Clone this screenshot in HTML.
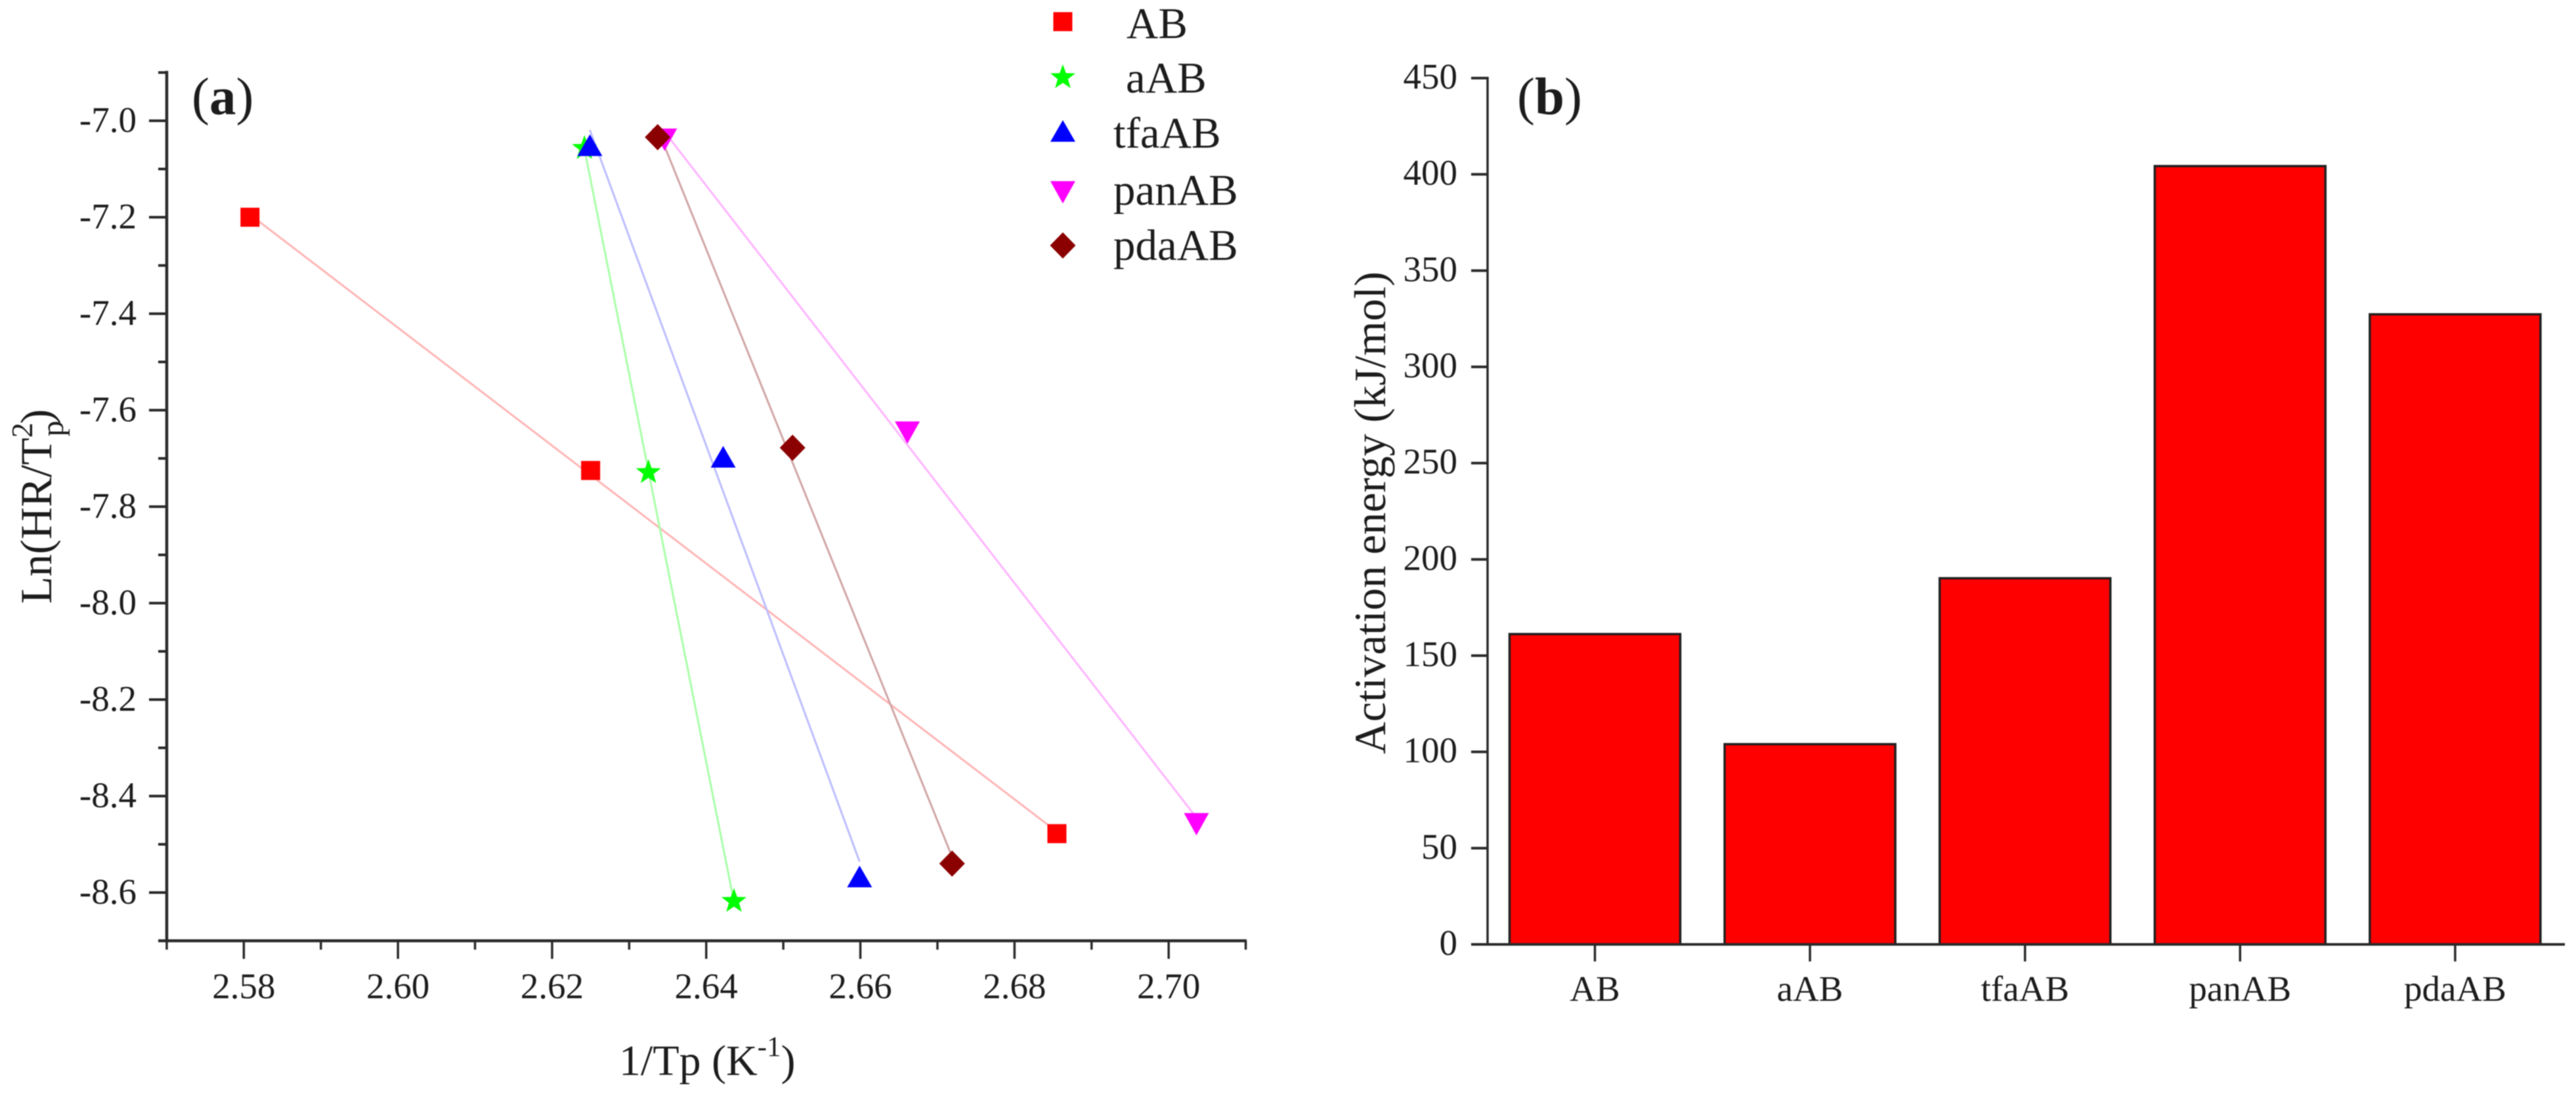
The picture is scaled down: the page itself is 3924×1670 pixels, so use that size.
<!DOCTYPE html>
<html lang="en">
<head>
<meta charset="utf-8">
<title>Kissinger plots and activation energy</title>
<style>
html,body{margin:0;padding:0;background:#fff;}
body{width:3924px;height:1670px;overflow:hidden;}
svg{display:block;filter:blur(0.8px);}
text{font-family:"Liberation Serif","Times New Roman",serif;fill:#1c1c1c;}
</style>
</head>
<body>
<svg id="figure" xmlns="http://www.w3.org/2000/svg" width="3924" height="1670" viewBox="0 0 3924 1670">
  <rect x="0" y="0" width="3924" height="1670" fill="#fff"/>
  <g id="panel-a">
    <line x1="254" y1="108" x2="254" y2="1436" stroke="#2a2a2a" stroke-width="4.5"/>
    <line x1="241" y1="1433.5" x2="1899" y2="1433.5" stroke="#2a2a2a" stroke-width="4.5"/>
    <text x="292" y="174" font-size="81">(<tspan font-weight="bold">a</tspan>)</text>
    <text x="943" y="1638" font-size="66">1/Tp (K<tspan font-size="43" dy="-29">-1</tspan><tspan dy="29">)</tspan></text>
    <g transform="translate(78,920) rotate(-90)">
      <text x="0" y="0" font-size="68">Ln(HR/T</text>
      <text x="253" y="-29" font-size="46">2</text>
      <text x="255" y="18" font-size="48">p</text>
      <text x="274" y="0" font-size="68">)</text>
    </g>
  </g>
  <g id="panel-b">
    <text x="2311" y="174" font-size="81">(<tspan font-weight="bold">b</tspan>)</text>
    <text transform="translate(2110,1149) rotate(-90)" x="0" y="0" font-size="68">Activation energy (kJ/mol)</text>
  </g>
  <g id="legend"></g>
</svg>
<script>
// ---- Panel (a) data ----
var seriesNames = ['AB', 'aAB', 'tfaAB', 'panAB', 'pdaAB'];
var seriesMarkers = ['square', 'star', 'triangle', 'inverted', 'diamond'];
var seriesColors = ['#ff0000', '#00ff00', '#0000ff', '#ff00ff', '#8b0000'];
var seriesLineColors = ['#ffb4b4', '#a8ffa8', '#bcbcff', '#ffb4ff', '#d0a4a4'];
var xAB = [2.5808, 2.6250, 2.6855];
var yAB = [-7.200, -7.725, -8.478];
var xaAB = [2.6242, 2.6325, 2.6436];
var yaAB = [-7.057, -7.729, -8.618];
var xtfaAB = [2.6249, 2.6422, 2.6599];
var ytfaAB = [-7.054, -7.700, -8.570];
var xpanAB = [2.6346, 2.6661, 2.7036];
var ypanAB = [-7.038, -7.645, -8.457];
var xpdaAB = [2.6337, 2.6512, 2.6719];
var ypdaAB = [-7.034, -7.678, -8.540];
var xTicksMajorA = ['2.58', '2.60', '2.62', '2.64', '2.66', '2.68', '2.70'];
var xTicksMinorA = [2.57, 2.59, 2.61, 2.63, 2.65, 2.67, 2.69, 2.71];
var yTicksMajorA = ['-7.0', '-7.2', '-7.4', '-7.6', '-7.8', '-8.0', '-8.2', '-8.4', '-8.6'];
var yTicksMinorA = [-6.9, -7.1, -7.3, -7.5, -7.7, -7.9, -8.1, -8.3, -8.5, -8.7];

// ---- Panel (b) data ----
var barCategories = ['AB', 'aAB', 'tfaAB', 'panAB', 'pdaAB'];
var barValues = [161.2, 104, 190.2, 404.3, 327.3];
var yTicksB = [0, 50, 100, 150, 200, 250, 300, 350, 400, 450];

// ---- Axis functions ----
function scaleXA(v) { return 254 + (v - 2.57) * 11740; }
function scaleYA(v) { return 184 + (-7 - v) * 735; }
function scaleYB(v) { return 1439 - v * 2.9333; }
function scaleXB(i) { return 2429.5 + i * 327.6; }

var NS = 'http://www.w3.org/2000/svg';
var panelA = document.getElementById('panel-a');
var panelB = document.getElementById('panel-b');
var legend = document.getElementById('legend');

function mk(tag, attrs, parent) {
  var el = document.createElementNS(NS, tag);
  for (var k in attrs) { el.setAttribute(k, attrs[k]); }
  parent.appendChild(el);
  return el;
}

function markerPoints(kind, cx, cy) {
  if (kind === 'triangle') { return [[cx, cy - 19], [cx + 19, cy + 14], [cx - 19, cy + 14]]; }
  if (kind === 'inverted') { return [[cx - 19, cy - 16], [cx + 19, cy - 16], [cx, cy + 18]]; }
  if (kind === 'diamond') { return [[cx, cy - 20], [cx + 19.5, cy], [cx, cy + 20], [cx - 19.5, cy]]; }
  if (kind === 'star') {
    var pts = [];
    for (var i = 0; i < 10; i++) {
      var r = i % 2 === 0 ? 20 : 8.2;
      var a = -Math.PI / 2 + i * Math.PI / 5;
      pts.push([cx + r * Math.cos(a), cy + r * Math.sin(a)]);
    }
    return pts;
  }
  return [[cx - 14.5, cy - 14.5], [cx + 14.5, cy - 14.5], [cx + 14.5, cy + 14.5], [cx - 14.5, cy + 14.5]];
}

function drawMarker(kind, cx, cy, color, parent) {
  var pts = markerPoints(kind, cx, cy).map(function (p) { return p[0].toFixed(1) + ',' + p[1].toFixed(1); }).join(' ');
  return mk('polygon', { points: pts, fill: color }, parent);
}

function fitLine(xs, ys) {
  var n = xs.length, sx = 0, sy = 0, sxx = 0, sxy = 0;
  for (var i = 0; i < n; i++) { sx += xs[i]; sy += ys[i]; sxx += xs[i] * xs[i]; sxy += xs[i] * ys[i]; }
  var m = (n * sxy - sx * sy) / (n * sxx - sx * sx);
  var b = (sy - m * sx) / n;
  return { m: m, b: b };
}

// ---- Panel (a) ticks ----
xTicksMajorA.forEach(function (label) {
  var v = parseFloat(label);
  var px = scaleXA(v);
  var t = mk('line', { x1: px, y1: 1433, x2: px, y2: 1461, stroke: '#2a2a2a', 'stroke-width': 3.5 }, panelA);
  
  
  var l = mk('text', { x: px, y: 1521, 'font-size': 55, 'text-anchor': 'middle' }, panelA);
  l.textContent = label;
  
  
});
xTicksMinorA.forEach(function (v) {
  var px = scaleXA(v);
  var t = mk('line', { x1: px, y1: 1433, x2: px, y2: 1447, stroke: '#2a2a2a', 'stroke-width': 3.5 }, panelA);
  
  
});
yTicksMajorA.forEach(function (label) {
  var v = parseFloat(label);
  var py = scaleYA(v);
  var t = mk('line', { x1: 227, y1: py, x2: 254, y2: py, stroke: '#2a2a2a', 'stroke-width': 4 }, panelA);
  
  
  var l = mk('text', { x: 208, y: py + 17, 'font-size': 55, 'text-anchor': 'end' }, panelA);
  l.textContent = label;
  
  
});
yTicksMinorA.forEach(function (v) {
  var py = scaleYA(v);
  var t = mk('line', { x1: 241, y1: py, x2: 254, y2: py, stroke: '#2a2a2a', 'stroke-width': 4 }, panelA);
  
  
});

// ---- Panel (a) series ----
var seriesX = [xAB, xaAB, xtfaAB, xpanAB, xpdaAB];
var seriesY = [yAB, yaAB, ytfaAB, ypanAB, ypdaAB];

seriesNames.forEach(function (name, s) {
  var xs = seriesX[s], ys = seriesY[s];
  var fit = fitLine(xs, ys);
  var x0 = xs[0], x1 = xs[xs.length - 1];
  var ln = mk('line', {
    x1: scaleXA(x0), y1: scaleYA(fit.m * x0 + fit.b),
    x2: scaleXA(x1), y2: scaleYA(fit.m * x1 + fit.b),
    stroke: seriesLineColors[s], 'stroke-width': 3
  }, panelA);
  
  
});
seriesNames.forEach(function (name, s) {
  var xs = seriesX[s], ys = seriesY[s];
  xs.forEach(function (xv, i) {
    var m = drawMarker(seriesMarkers[s], scaleXA(xv), scaleYA(ys[i]), seriesColors[s], panelA);
    
    
  });
});

// ---- Legend ----
var legendRowY = [33, 118, 202, 292, 374];
var legendBaseY = [58, 141, 225, 312, 396];
var legendTextX = [1716, 1715, 1696, 1696, 1696];
seriesNames.forEach(function (name, s) {
  var m = drawMarker(seriesMarkers[s], 1619, legendRowY[s], seriesColors[s], legend);
  
  
  var t = mk('text', { x: legendTextX[s], y: legendBaseY[s], 'font-size': 67 }, legend);
  t.textContent = name;
  
  
});

// ---- Panel (b) bars ----
barCategories.forEach(function (cat, i) {
  var cx = scaleXB(i);
  var top = scaleYB(barValues[i]);
  var base = scaleYB(0);
  var r = mk('rect', { x: cx - 130, y: top, width: 260, height: base - top, fill: '#ff0000', stroke: '#1f1f1f', 'stroke-width': 3.5 }, panelB);
  
  
  var t = mk('line', { x1: cx, y1: 1439, x2: cx, y2: 1465, stroke: '#2a2a2a', 'stroke-width': 3.5 }, panelB);
  
  
  var l = mk('text', { x: cx, y: 1525, 'font-size': 55, 'text-anchor': 'middle' }, panelB);
  l.textContent = cat;
  
  
});

// ---- Panel (b) axes ----
var axisYB = mk('line', { x1: 2266, y1: 117, x2: 2266, y2: 1441, stroke: '#2a2a2a', 'stroke-width': 3.5 }, panelB);


var axisXB = mk('line', { x1: 2241, y1: 1439, x2: 3907, y2: 1439, stroke: '#2a2a2a', 'stroke-width': 4 }, panelB);


yTicksB.forEach(function (v) {
  var py = scaleYB(v);
  var t = mk('line', { x1: 2241, y1: py, x2: 2266, y2: py, stroke: '#2a2a2a', 'stroke-width': 4 }, panelB);
  
  
  var l = mk('text', { x: 2220, y: py + 16, 'font-size': 55, 'text-anchor': 'end' }, panelB);
  l.textContent = String(v);
  
  
});
</script>
</body>
</html>
